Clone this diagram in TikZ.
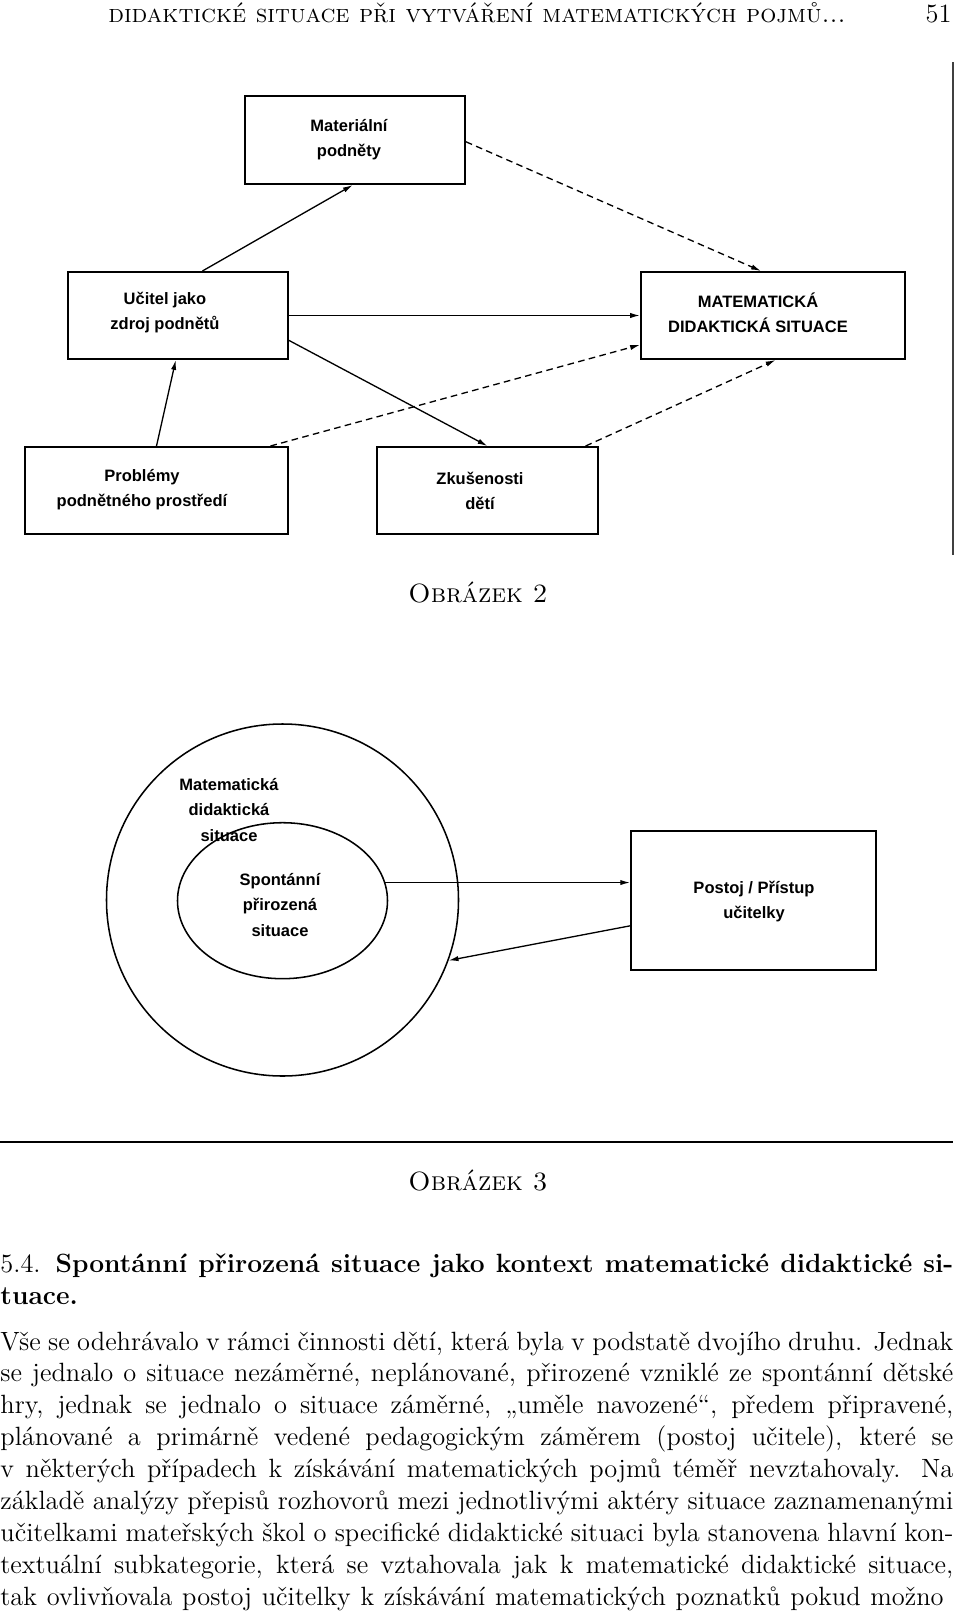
\documentclass[tikz,border=0pt]{standalone}
\usepackage{fontspec}
\newfontfamily\diafont{Liberation Sans}
\usepackage{tikz}
\usetikzlibrary{calc, positioning, arrows.meta, shapes.geometric}
\newdimen\pu \pu=0.4545pt
\newdimen\textw \textw=433.1pt
\tikzset{
    box/.style={rectangle, draw=black, line width=0.9pt, inner sep=0pt},
    lbl/.style={align=center, inner sep=0pt, font=\diafont\bfseries\fontsize{7.5}{11.4}\selectfont},
    arrow/.style={-{Latex[length=4.5pt, width=2.4pt]}, line width=0.6pt},
    dasharrow/.style={arrow, dash pattern=on 3pt off 2pt},
    txtline/.style={anchor=base west, inner sep=0pt, font=\fontsize{12}{14.5}\selectfont},
    caption/.style={anchor=base, inner sep=0pt, font=\fontsize{12}{14.5}\selectfont\scshape}
}
\begin{document}
\begin{tikzpicture}[x=\pu, y=-\pu]
    \fill[white] (0,0) rectangle (960,1614);
    \useasboundingbox (0,0) rectangle (960,1614);

    % Running head
    \node[caption, font=\fontsize{11.5}{14}\selectfont\scshape] (runhead) at (477,22) {didaktické situace při vytváření matematických pojmů...};
    \node[txtline, anchor=base east] (pagenum) at (952,22) {51};
    \draw[line width=0.8pt, black!75] (953,62) -- (953,555);

    % Obrazek 2
    \node[box, minimum width=220\pu, minimum height=88\pu] (mat) at (355,140) {};
    \node[box, minimum width=220\pu, minimum height=87\pu] (ucitel) at (178,315.5) {};
    \node[box, minimum width=264\pu, minimum height=87\pu] (mds) at (773,315.5) {};
    \node[box, minimum width=263\pu, minimum height=87\pu] (prob) at (156.5,490.5) {};
    \node[box, minimum width=221\pu, minimum height=87\pu] (zkus) at (487.5,490.5) {};

    \node[lbl] (matT) at (349,140) {Materiální\\podněty};
    \node[lbl] (ucitelT) at (165,313) {Učitel jako\\zdroj podnětů};
    \node[lbl] (mdsT) at (758,313) {MATEMATICKÁ\\DIDAKTICKÁ SITUACE};
    \node[lbl] (probT) at (142,490) {Problémy\\podnětného prostředí};
    \node[lbl] (zkusT) at (480,491) {Zkušenosti\\dětí};

    \draw[arrow] ($(ucitel.north west)!0.61!(ucitel.north east)$) -- ($(mat.south west)!0.49!(mat.south east)$);
    \draw[dasharrow] ($(mat.north east)!0.52!(mat.south east)$) -- ($(mds.north west)!0.455!(mds.north east)$);
    \draw[arrow] (ucitel.east) -- (ucitel.east -| mds.west);
    \draw[arrow] ($(ucitel.north east)!0.78!(ucitel.south east)$) -- (zkus.north);
    \draw[dasharrow] ($(prob.north west)!0.93!(prob.north east)$) -- ($(mds.north west)!0.83!(mds.south west)$);
    \draw[dasharrow] ($(zkus.north west)!0.94!(zkus.north east)$) -- ($(mds.south west)!0.51!(mds.south east)$);
    \draw[arrow] (prob.north) -- ($(ucitel.south west)!0.49!(ucitel.south east)$);

    \node[caption] (cap2) at (478,602) {Obrázek 2};

    % Obrazek 3
    \node[draw, circle, line width=0.7pt, minimum size=352\pu, inner sep=0pt] (outer) at (282.5,900) {};
    \node[draw, ellipse, line width=0.7pt, minimum width=210\pu, minimum height=156\pu, inner sep=0pt] (inner) at (282.5,900.7) {};
    \node[box, line width=0.7pt, minimum width=245\pu, minimum height=139\pu] (postoj) at (753.5,900.5) {};

    \node[lbl] (outerT) at (229,810) {Matematická\\didaktická\\situace};
    \node[lbl] (innerT) at (280,905) {Spontánní\\přirozená\\situace};
    \node[lbl] (postojT) at (754,901.5) {Postoj / Přístup\\učitelky};

    \draw[arrow] (inner.10) -- (inner.10 -| postoj.west);
    \draw[arrow] ($(postoj.north west)!0.68!(postoj.south west)$) -- (outer.-20.5);

    \draw[line width=1pt] (0,1142) -- (953,1142);
    \node[caption] (cap3) at (478,1190) {Obrázek 3};

    % Text
    \node[txtline] (head1) at (0,1272) {\makebox[\textw][s]{5.4. \textbf{Spontánní přirozená situace jako kontext matematické didaktické si-}}};
    \node[txtline] (head2) at (0,1304) {\textbf{tuace.}};

    \foreach \row [count=\i from 0] in {
        {Vše se odehrávalo v rámci činnosti dětí, která byla v podstatě dvojího druhu. Jednak},
        {se jednalo o situace nezáměrné, neplánované, přirozené vzniklé ze spontánní dětské},
        {hry, jednak se jednalo o situace záměrné, „uměle navozené“, předem připravené,},
        {plánované a primárně vedené pedagogickým záměrem (postoj učitele), které se},
        {v některých případech k získávání matematických pojmů téměř nevztahovaly. Na},
        {základě analýzy přepisů rozhovorů mezi jednotlivými aktéry situace zaznamenanými},
        {učitelkami mateřských škol o specifické didaktické situaci byla stanovena hlavní kon-},
        {textuální subkategorie, která se vztahovala jak k matematické didaktické situace,},
        {tak ovlivňovala postoj učitelky k získávání matematických poznatků pokud možno}
    }{
        \node[txtline] (body\i) at (0,{1350+31.9*\i}) {\makebox[\textw][s]{\row}};
    }
\end{tikzpicture}
\end{document}
